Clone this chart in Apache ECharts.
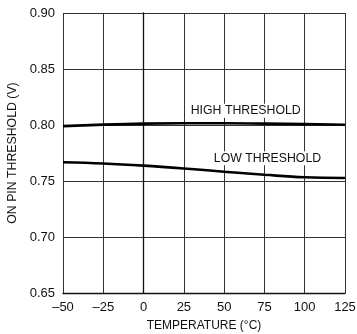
<!DOCTYPE html>
<html>
<head>
<meta charset="utf-8">
<script src="https://cdn.jsdelivr.net/npm/echarts@6/dist/echarts.min.js"></script>
<style>
  html, body { margin: 0; padding: 0; background: #fff; }
  #chart { width: 357px; height: 334px; }
</style>
</head>
<body>
<div id="chart"></div>
<script>
// ON pin threshold voltage versus temperature
const temperatures = [-50, -25, 0, 25, 50, 75, 100, 125];
const highThreshold = [0.799, 0.8003, 0.8012, 0.8015, 0.8015, 0.8012, 0.8008, 0.8002];
const lowThreshold = [0.7667, 0.7656, 0.7637, 0.7612, 0.7583, 0.7556, 0.7533, 0.7527];
const xTicks = [-50, -25, 0, 25, 50, 75, 100, 125];
const yTicks = [0.65, 0.70, 0.75, 0.80, 0.85, 0.90];

const FONT = '"Liberation Sans", Arial, Helvetica, sans-serif';

const chart = echarts.init(document.getElementById('chart'), null, { renderer: 'canvas' });

function pairs(xs, ys) { return xs.map((x, i) => [x, ys[i]]); }

function curveLabel(text, coord) {
  return {
    symbol: 'rect', symbolSize: 0,
    label: {
      show: true, position: 'inside', formatter: text,
      fontFamily: FONT, fontSize: 12.3, color: '#111',
      backgroundColor: '#fff', padding: [1, 1]
    },
    data: [{ coord: coord }]
  };
}

chart.setOption({
  animation: false,
  backgroundColor: '#fff',
  grid: { left: 63, right: 12, top: 13, bottom: 41, containLabel: false, outerBoundsMode: 'none' },
  xAxis: {
    type: 'value', min: xTicks[0], max: xTicks[xTicks.length - 1], interval: 25,
    name: 'TEMPERATURE (°C)', nameLocation: 'middle', nameGap: 27,
    nameTextStyle: { fontFamily: FONT, fontSize: 12, color: '#111' },
    axisLine: { show: true, lineStyle: { color: '#111', width: 1.3 } },
    axisTick: { show: false },
    axisLabel: {
      fontFamily: FONT, fontSize: 13, color: '#111', margin: 8,
      formatter: v => (v < 0 ? '\u2013' + Math.abs(v) : String(v))
    },
    splitLine: { show: true, lineStyle: { color: '#333', width: 1 } }
  },
  yAxis: {
    type: 'value', min: yTicks[0], max: yTicks[yTicks.length - 1], interval: 0.05,
    name: 'ON PIN THRESHOLD (V)', nameLocation: 'middle', nameGap: 42, nameRotate: 90,
    nameTextStyle: { fontFamily: FONT, fontSize: 12.3, color: '#111' },
    axisLine: { show: true, lineStyle: { color: '#111', width: 1.3 } },
    axisTick: { show: false },
    axisLabel: {
      fontFamily: FONT, fontSize: 13, color: '#111', margin: 8,
      formatter: v => v.toFixed(2)
    },
    splitLine: { show: true, lineStyle: { color: '#333', width: 1 } }
  },
  series: [
    {
      name: 'HIGH THRESHOLD', type: 'line', smooth: 0.4, symbol: 'none',
      data: pairs(temperatures, highThreshold),
      lineStyle: { color: '#000', width: 2.6 },
      markPoint: curveLabel('HIGH THRESHOLD', [63.4, 0.8128])
    },
    {
      name: 'LOW THRESHOLD', type: 'line', smooth: 0.4, symbol: 'none',
      data: pairs(temperatures, lowThreshold),
      lineStyle: { color: '#000', width: 2.6 },
      markPoint: curveLabel('LOW THRESHOLD', [76.9, 0.7703])
    }
  ]
});
</script>
</body>
</html>
